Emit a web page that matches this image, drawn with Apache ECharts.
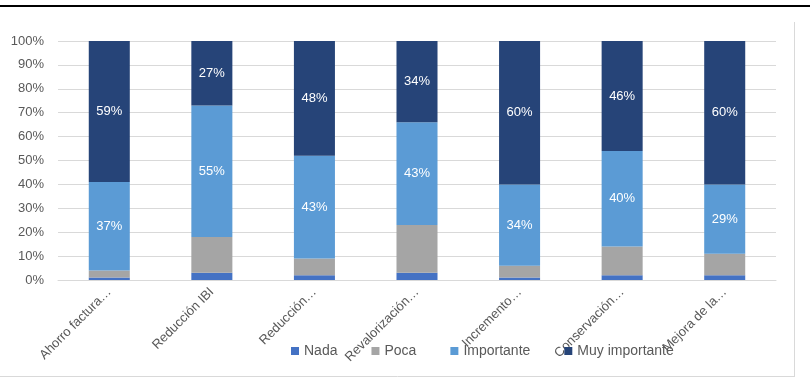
<!DOCTYPE html>
<html>
<head>
<meta charset="utf-8">
<script src="https://cdn.jsdelivr.net/npm/echarts@6/dist/echarts.min.js"></script>
<style>
  html, body { margin: 0; padding: 0; background: #fff; }
  #chart { width: 810px; height: 380px; }
</style>
</head>
<body>
<div id="chart"></div>
<script>
// categories (truncated as in the original)
const categories = ['Ahorro factura…', 'Reducción IBI', 'Reducción…', 'Revalorización…', 'Incremento…', 'Conservación…', 'Mejora de la…'];
const yTicks = [0, 10, 20, 30, 40, 50, 60, 70, 80, 90, 100];

// percentages per category
const nada          = [1, 3, 2, 3, 1, 2, 2];
const poca          = [3, 15, 7, 20, 5, 12, 9];
const importante    = [37, 55, 43, 43, 34, 40, 29];
const muyImportante = [59, 27, 48, 34, 60, 46, 60];

const font = 'Liberation Sans, Arial, sans-serif';
const grey = '#595959';

var myChart = echarts.init(document.getElementById('chart'));

function bar(name, data, color, withLabel) {
    return {
        name: name,
        type: 'bar',
        stack: 'total',
        barWidth: '40%',
        data: data,
        itemStyle: { color: color },
        label: {
            show: withLabel,
            position: 'inside',
            color: '#fff',
            fontFamily: font,
            fontSize: 13,
            formatter: function (p) { return p.value + '%'; }
        }
    };
}

var option = {
    animation: false,
    textStyle: { fontFamily: font },
    grid: { left: 58, right: 34, top: 41, bottom: 100 },
    legend: {
        bottom: 17,
        left: 286,
        itemWidth: 8,
        itemHeight: 8,
        itemGap: 34,
        icon: 'rect',
        textStyle: { color: grey, fontSize: 14, fontFamily: font },
        data: ['Nada', 'Poca', 'Importante', 'Muy importante']
    },
    xAxis: {
        type: 'category',
        data: categories,
        axisLine: { lineStyle: { color: '#d9d9d9' } },
        axisTick: { show: false },
        axisLabel: {
            interval: 0,
            rotate: 45,
            color: grey,
            fontSize: 13,
            fontFamily: font,
            margin: 10
        }
    },
    yAxis: {
        type: 'value',
        min: yTicks[0],
        max: yTicks[yTicks.length - 1],
        interval: 10,
        axisLine: { show: false },
        axisTick: { show: false },
        splitLine: { lineStyle: { color: '#d9d9d9' } },
        axisLabel: {
            color: grey,
            fontSize: 13,
            fontFamily: font,
            margin: 14,
            formatter: '{value}%'
        }
    },
    series: [
        bar('Nada', nada, '#4472c4', false),
        bar('Poca', poca, '#a5a5a5', false),
        bar('Importante', importante, '#5b9bd5', true),
        bar('Muy importante', muyImportante, '#264478', true)
    ],
    graphic: [
        { type: 'rect', shape: { x: 0, y: 5, width: 810, height: 2 }, style: { fill: '#000' } },
        { type: 'line', shape: { x1: 794.5, y1: 22, x2: 794.5, y2: 377 }, style: { stroke: '#d9d9d9', lineWidth: 1 } },
        { type: 'line', shape: { x1: 0, y1: 376.5, x2: 795, y2: 376.5 }, style: { stroke: '#d9d9d9', lineWidth: 1 } }
    ]
};

myChart.setOption(option);
</script>
</body>
</html>
